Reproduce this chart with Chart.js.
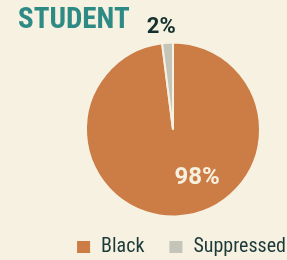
<!DOCTYPE html>
<html>
<head>
<meta charset="utf-8">
<script src="https://cdn.jsdelivr.net/npm/chart.js@4"></script>
<style>
  html, body { margin: 0; padding: 0; background: #f6f1e1; overflow: hidden; }
  /* canvas is a bit wider/taller than the window so the pie can sit right of centre */
  #wrap { position: relative; width: 310px; height: 267px; }
</style>
</head>
<body>
<div id="wrap"><canvas id="chart"></canvas></div>
<script>
const titleText = "STUDENT";
const categories = ["Black", "Suppressed"];
const shares = [98, 2];
const sliceColors = ["#cc7c45", "#c5c4b8"];

const BG = "#f6f1e1";
const FONT = "'Roboto Condensed', Roboto, sans-serif";

// title drawn straight on the canvas, left aligned like the original
const titlePlugin = {
  id: "cornerTitle",
  afterDraw(chart, args, opts) {
    const ctx = chart.ctx;
    ctx.save();
    ctx.font = "bold 29px " + FONT;
    ctx.fillStyle = "#2d8a84";
    ctx.textAlign = "left";
    ctx.textBaseline = "alphabetic";
    ctx.fillText(opts.text, 18, 28);
    ctx.restore();
  }
};

// percent labels, one per slice
const pctPlugin = {
  id: "pctLabels",
  afterDatasetsDraw(chart, args, opts) {
    const ctx = chart.ctx;
    const meta = chart.getDatasetMeta(0);
    meta.data.forEach((arc, i) => {
      const p = arc.getProps(["x", "y", "startAngle", "endAngle", "outerRadius"], true);
      const ang = (p.startAngle + p.endAngle) / 2 + opts.shift[i] * Math.PI / 180;
      const r = p.outerRadius * opts.dist[i];
      ctx.save();
      ctx.font = "bold " + opts.size[i] + "px Roboto, sans-serif";
      ctx.fillStyle = opts.color[i];
      ctx.textAlign = "center";
      ctx.textBaseline = "middle";
      ctx.fillText(shares[i] + "%", p.x + Math.cos(ang) * r, p.y + Math.sin(ang) * r);
      ctx.restore();
    });
  }
};

new Chart(document.getElementById("chart"), {
  type: "pie",
  data: {
    labels: categories,
    datasets: [{
      data: shares,
      backgroundColor: sliceColors,
      borderColor: BG,
      borderWidth: 2,
      radius: 87
    }]
  },
  options: {
    responsive: true,
    maintainAspectRatio: false,
    animation: false,
    layout: { padding: { left: 36, right: 0, top: 46, bottom: 0 } },
    plugins: {
      tooltip: { enabled: false },
      title: { display: false },
      cornerTitle: { text: titleText },
      pctLabels: {
        dist: [0.62, 1.18],
        shift: [-23, -3],
        size: [24, 22],
        color: ["#f6f0df", "#14302e"]
      },
      legend: {
        position: "bottom",
        align: "end",
        labels: {
          boxWidth: 15,
          boxHeight: 14,
          padding: 24,
          color: "#1d3a39",
          font: { family: FONT, size: 20 }
        }
      }
    }
  },
  plugins: [titlePlugin, pctPlugin]
});
</script>
</body>
</html>
